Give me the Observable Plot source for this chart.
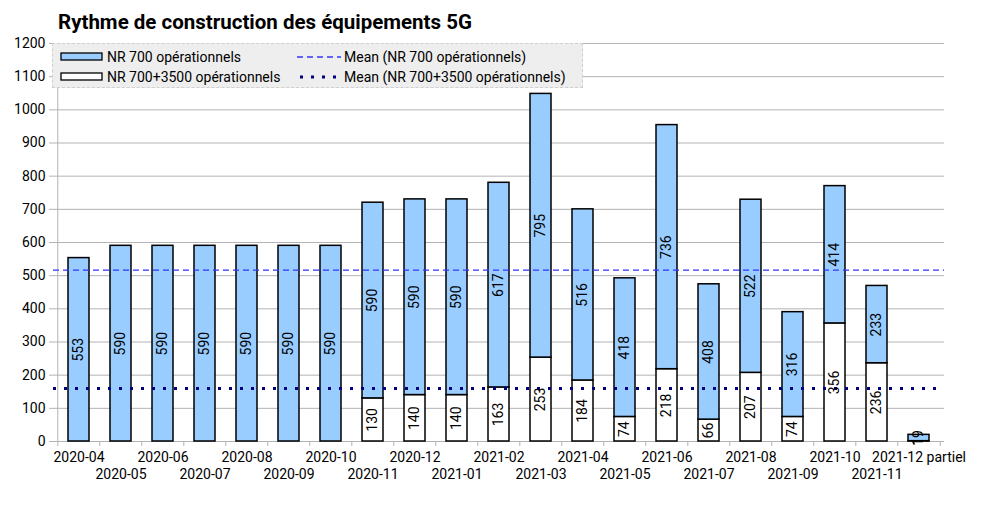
<!DOCTYPE html>
<html><head><meta charset="utf-8">
<script src="https://cdn.jsdelivr.net/npm/d3@7"></script>
<script src="https://cdn.jsdelivr.net/npm/@observablehq/plot@0.6"></script>
<style>
body{margin:0;background:#fff;font-family:Roboto,sans-serif;}
#wrap{position:relative;width:985px;height:508px;overflow:hidden;}
#title{position:absolute;left:58px;top:10px;font:bold 20.5px Roboto;color:#000;white-space:nowrap;line-height:24px;}
#legend{position:absolute;left:52px;top:43px;width:531px;height:45px;background:#eeeeee;border:1px dashed #cfcfcf;box-sizing:border-box;font:14px Roboto;color:#000;}
.li{position:absolute;white-space:nowrap;line-height:18px;display:flex;align-items:center;}
.li svg{margin-right:3px;}
</style>
</head><body>
<div id="wrap">
<div id="chart"></div>
<div id="title">Rythme de construction des équipements 5G</div>
<div id="legend"></div>
</div>
<script>
const months = ["2020-04","2020-05","2020-06","2020-07","2020-08","2020-09","2020-10","2020-11","2020-12","2021-01","2021-02","2021-03","2021-04","2021-05","2021-06","2021-07","2021-08","2021-09","2021-10","2021-11","2021-12 partiel"];
const nr700 = [553,590,590,590,590,590,590,590,590,590,617,795,516,418,736,408,522,316,414,233,19];
const nr3500 = [0,0,0,0,0,0,0,130,140,140,163,253,184,74,218,66,207,74,356,236,1];
const yTicks = [0,100,200,300,400,500,600,700,800,900,1000,1100,1200];
const S700 = "NR 700 opérationnels";
const S3500 = "NR 700+3500 opérationnels";
const M700 = "Mean (NR 700 opérationnels)";
const M3500 = "Mean (NR 700+3500 opérationnels)";

const rows = months.flatMap((m, i) => [
  {month: m, series: S3500, value: nr3500[i]},
  {month: m, series: S700, value: nr700[i]}
]).filter(d => d.value > 0);

const mean700 = d3.mean(nr700);
const mean3500 = d3.mean(nr3500.filter(v => v > 0));

const half = (985 - 53 - 41) / months.length / 2;

const chart = Plot.plot({
  width: 985, height: 508,
  marginTop: 43, marginBottom: 67, marginLeft: 53, marginRight: 41,
  style: {fontFamily: "Roboto", fontSize: "14px", color: "#000", background: "transparent"},
  x: {domain: months, paddingInner: 0.5, paddingOuter: 0.25, label: null},
  y: {domain: [0, 1200], label: null},
  marks: [
    Plot.gridY(yTicks, {stroke: "#b3b3b3", strokeOpacity: 1}),
    Plot.ruleX([months[0]], {dx: -half, stroke: "#b3b3b3"}),
    Plot.ruleY([0], {stroke: "#b3b3b3"}),
    Plot.axisY(yTicks, {tickSize: 4, tickPadding: 4, stroke: "#b3b3b3", fill: "#000", fontSize: 14, label: null, tickFormat: d => String(d)}),
    Plot.axisX({tickSize: 5, tickFormat: () => "", dx: -half, stroke: "#b3b3b3", label: null}),
    Plot.axisX([months[months.length - 1]], {tickSize: 5, tickFormat: () => "", dx: half, stroke: "#b3b3b3", label: null}),
    Plot.axisX({tickSize: 0, tickPadding: 9, lineHeight: 1.2, fill: "#000", fontSize: 14, label: null,
      tickFormat: d => months.indexOf(d) % 2 ? "\n" + d : d}),
    Plot.barY(rows, {x: "month", y: "value", fill: d => d.series === S700 ? "#99ccff" : "#ffffff", stroke: "#000", strokeWidth: 1.5}),
    Plot.ruleY([mean700], {stroke: "#3333ff", strokeWidth: 1.3, strokeDasharray: "6,4"}),
    Plot.ruleY([mean3500], {stroke: "#000080", strokeWidth: 3, strokeDasharray: "3,8"}),
    Plot.text(rows, Plot.stackY({x: "month", y: "value", text: d => String(d.value), rotate: -90, fontSize: 14, fill: "#000"}))
  ]
});
document.getElementById("chart").appendChild(chart);

// legend
const legend = document.getElementById("legend");
const items = [
  {x: 7, y: 4, label: S700, sw: `<rect x="1" y="5" width="41" height="7" fill="#99ccff" stroke="#000" stroke-width="1.3"/>`},
  {x: 7, y: 24, label: S3500, sw: `<rect x="1" y="5" width="41" height="7" fill="#ffffff" stroke="#000" stroke-width="1.3"/>`},
  {x: 244, y: 4, label: M700, sw: `<line x1="0" y1="9" x2="44" y2="9" stroke="#3333ff" stroke-width="1.3" stroke-dasharray="6,4"/>`},
  {x: 244, y: 24, label: M3500, sw: `<line x1="3" y1="9" x2="44" y2="9" stroke="#000080" stroke-width="3" stroke-dasharray="3,8"/>`}
];
for (const it of items) {
  const d = document.createElement("div");
  d.className = "li";
  d.style.left = it.x + "px";
  d.style.top = it.y + "px";
  d.innerHTML = `<svg width="44" height="18">${it.sw}</svg><span>${it.label}</span>`;
  legend.appendChild(d);
}
</script>
</body></html>
